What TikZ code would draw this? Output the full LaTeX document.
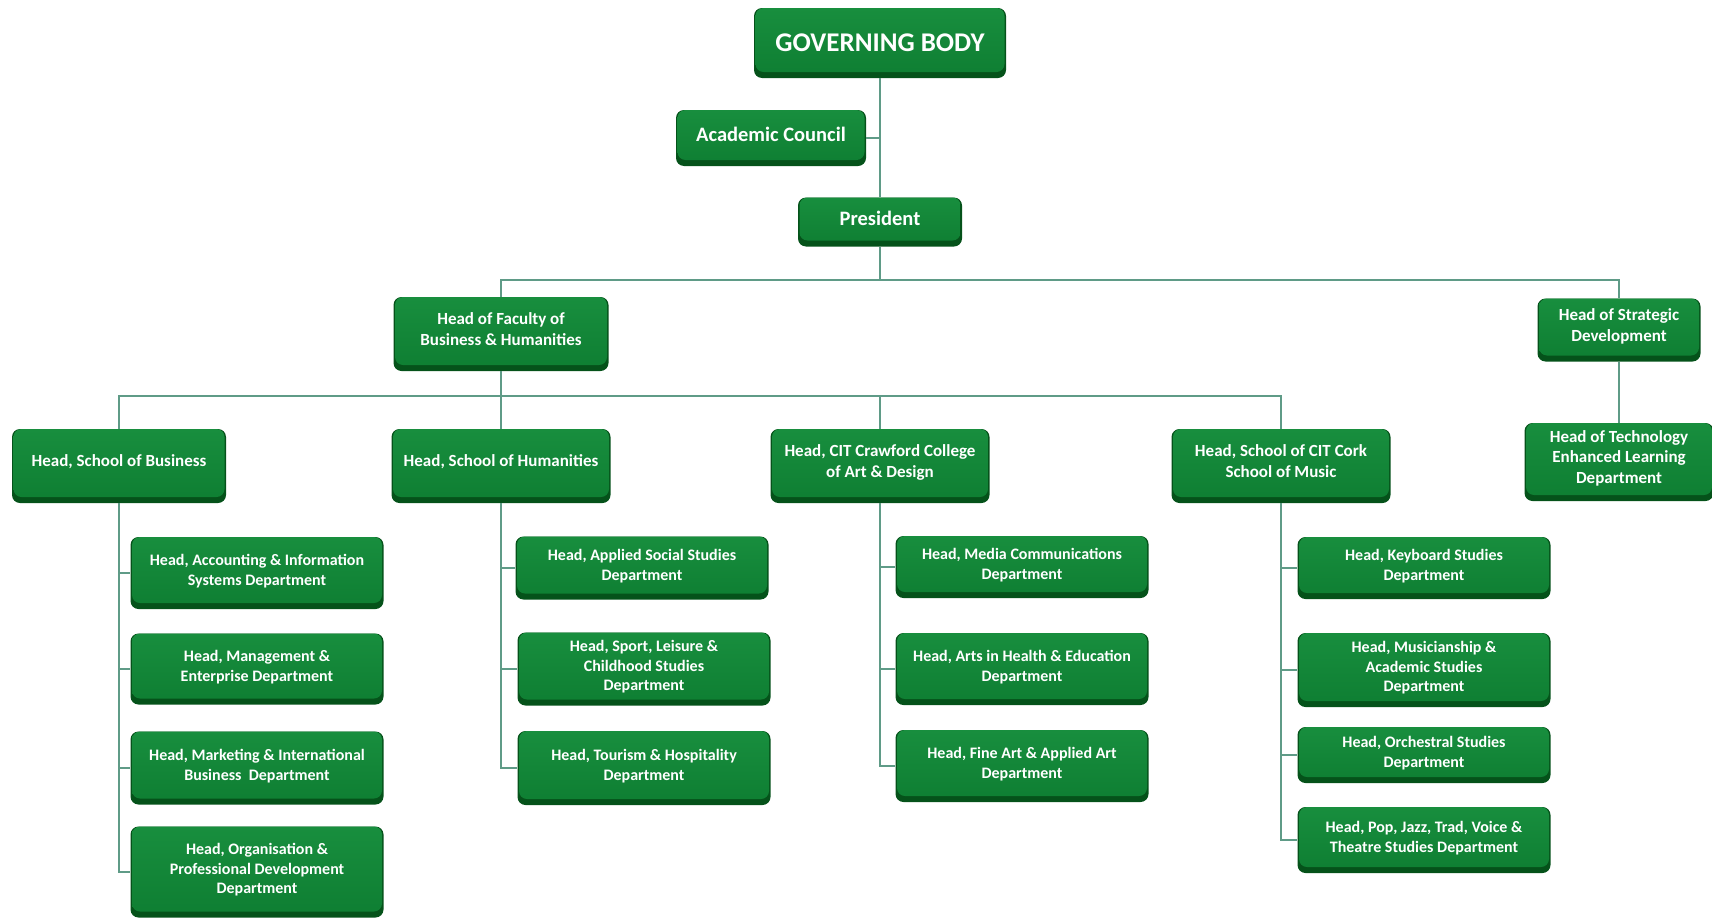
\documentclass[tikz,border=0pt]{standalone}
\usepackage{fontspec}
\setmainfont{Carlito}
\usepackage{tikz}
\definecolor{boxgreen}{RGB}{14,126,50}
\definecolor{boxlight}{RGB}{24,142,62}
\definecolor{boxdark}{RGB}{5,82,26}
\definecolor{linkcol}{RGB}{95,155,135}
\tikzstyle{box} = [rectangle, rounded corners=8pt, fill=boxdark, text=white, align=center, inner sep=2pt,
  font={\bfseries\fontsize{16}{19.5}\selectfont},
  path picture={\shade[top color=boxlight, bottom color=boxgreen, rounded corners=8pt]
    ([xshift=1.5pt]path picture bounding box.north west) rectangle
    ([xshift=-1.5pt,yshift=6pt]path picture bounding box.south east);}]
\tikzstyle{dept} = [box, text depth=6.5pt, minimum width=253pt, minimum height=72pt]
\tikzstyle{head} = [box, text depth=10pt, font={\bfseries\fontsize{17}{20.5}\selectfont}]
\tikzstyle{school} = [head, minimum width=219pt, minimum height=74pt]
\tikzstyle{top} = [box, text depth=7pt, font={\bfseries\fontsize{20.5}{24}\selectfont}]
\tikzstyle{link} = [draw=linkcol, line width=1.2pt]

\begin{document}
\begin{tikzpicture}[x=1pt,y=-1pt]
  \useasboundingbox (0,0) rectangle (1712,918);
  \node[box,minimum width=252pt,minimum height=70pt,font={\bfseries\fontsize{27}{32}\selectfont}](gb) at (880,43){GOVERNING BODY};
  \node[top,minimum width=190pt,minimum height=56pt](ac) at (771,138){Academic Council};
  \node[top,minimum width=164pt,minimum height=49pt](pres) at (880,222){President};
  \node[head,minimum width=215pt,minimum height=74pt](fac) at (501,334){Head of Faculty of\\Business \& Humanities};
  \node[head,minimum width=163pt,minimum height=63pt](strat) at (1619,330){Head of Strategic\\Development};
  \node[head,minimum width=189pt,minimum height=78pt](tel) at (1619,462){Head of Technology\\Enhanced Learning\\Department};
  \node[school,minimum width=214pt](sbus) at (119,466){Head, School of Business};
  \node[school](shum) at (501,466){Head, School of Humanities};
  \node[school](sart) at (880,466){Head, CIT Crawford College\\of Art \& Design};
  \node[school](smus) at (1281,466){Head, School of CIT Cork\\School of Music};
  \node[dept](acc) at (257,573){Head, Accounting \& Information\\Systems Department};
  \node[dept,minimum height=71pt](mgt) at (257,669){Head, Management \&\\Enterprise Department};
  \node[dept,minimum height=73pt](mkt) at (257,768){Head, Marketing \& International\\Business~ Department};
  \node[dept,minimum height=91pt](org) at (257,872){Head, Organisation \&\\Professional Development\\Department};
  \node[dept,minimum height=63pt](ass) at (642,568){Head, Applied Social Studies\\Department};
  \node[dept,minimum height=73pt](slc) at (644,669){Head, Sport, Leisure \&\\Childhood Studies\\Department};
  \node[dept,minimum height=74pt](tour) at (644,768){Head, Tourism \& Hospitality\\Department};
  \node[dept,minimum height=62pt](media) at (1022,567){Head, Media Communications\\Department};
  \node[dept](ahe) at (1022,669){Head, Arts in Health \& Education\\Department};
  \node[dept](fine) at (1022,766){Head, Fine Art \& Applied Art\\Department};
  \node[dept,minimum height=62pt](key) at (1424,568){Head, Keyboard Studies\\Department};
  \node[dept,minimum height=74pt](mus) at (1424,670){Head, Musicianship \&\\Academic Studies\\Department};
  \node[dept,minimum height=56pt](orch) at (1424,755){Head, Orchestral Studies\\Department};
  \node[dept,minimum height=66pt](pop) at (1424,840){Head, Pop, Jazz, Trad, Voice \&\\Theatre Studies Department};
  \coordinate (topbus) at (880,280);
  \coordinate (midbus) at (501,396);
  \draw[link](gb.south)--(pres.north);
  \draw[link](ac.east)--(ac.east -| gb.south);
  \draw[link](pres.south)--(topbus);
  \draw[link](fac.north)|-(topbus)-|(strat.north);
  \draw[link](strat.south)--(tel.north);
  \draw[link](fac.south)--(shum.north);
  \draw[link](sbus.north)|-(midbus)-|(smus.north);
  \draw[link](sart.north)--(sart.north |- midbus);
  \foreach \c in {acc,mgt,mkt,org} \draw[link](sbus.south)|-(\c.west);
  \foreach \c in {ass,slc,tour} \draw[link](shum.south)|-(\c.west);
  \foreach \c in {media,ahe,fine} \draw[link](sart.south)|-(\c.west);
  \foreach \c in {key,mus,orch,pop} \draw[link](smus.south)|-(\c.west);
\end{tikzpicture}
\end{document}
